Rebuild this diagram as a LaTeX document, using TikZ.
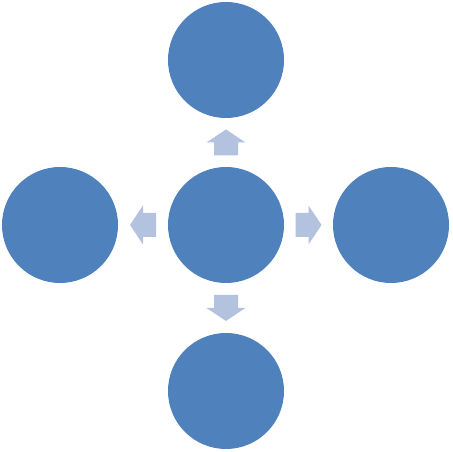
\documentclass[tikz,border=0pt]{standalone}
\usetikzlibrary{calc}
\definecolor{cblue}{HTML}{4F81BD}
\definecolor{ablue}{HTML}{B3C3DF}
\begin{document}
\begin{tikzpicture}[x=1pt,y=1pt,
  bubble/.style={circle,fill=cblue,draw=none,minimum size=116pt,inner sep=0pt},
  blockarrow/.pic={\fill[ablue] (-13,-12) -- (0,-12) -- (0,-19.5) -- (13,0) -- (0,19.5) -- (0,12) -- (-13,12) -- cycle;}]
\useasboundingbox (0,0) rectangle (453,452);
\node[bubble] (c) at (226,227) {};
\node[bubble] (t) at (226,392) {};
\node[bubble] (b) at (226,61) {};
\node[bubble] (l) at (60,227) {};
\node[bubble] (r) at (391,227) {};
\pic[rotate=0] at ($(c)!0.5!(r)$) {blockarrow};
\pic[rotate=90] at ($(c)!0.5!(t)$) {blockarrow};
\pic[rotate=180] at ($(c)!0.5!(l)$) {blockarrow};
\pic[rotate=270] at ($(c)!0.5!(b)$) {blockarrow};
\end{tikzpicture}
\end{document}
